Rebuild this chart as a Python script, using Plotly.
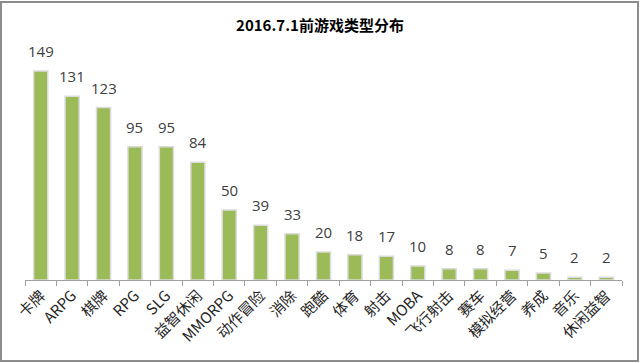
import plotly.graph_objects as go

categories = ["卡牌", "ARPG", "棋牌", "RPG", "SLG", "益智休闲", "MMORPG", "动作冒险", "消除",
              "跑酷", "体育", "射击", "MOBA", "飞行射击", "赛车", "模拟经营", "养成", "音乐", "休闲益智"]
values = [149, 131, 123, 95, 95, 84, 50, 39, 33, 20, 18, 17, 10, 8, 8, 7, 5, 2, 2]

fig = go.Figure(go.Bar(
    x=categories, y=values,
    marker=dict(color="#9BBB59", line=dict(color="#DCDCDC", width=1.5)),
    cliponaxis=False,
))

for c, v in zip(categories, values):
    fig.add_annotation(x=c, y=v, text=str(v), showarrow=False, yanchor="bottom", yshift=8,
                       font=dict(size=15, color="#404040", family="Open Sans, Noto Sans CJK SC"))

fig.update_layout(
    width=640, height=363,
    margin=dict(l=25, r=18, t=50, b=83),
    paper_bgcolor="white", plot_bgcolor="white",
    bargap=0.55,
    showlegend=False,
    title=dict(text="<b>2016.7.1前游戏类型分布</b>", x=0.5, xanchor="center", y=0.93, yanchor="middle",
               font=dict(size=15, color="#000000", family="Noto Sans CJK SC")),
    xaxis=dict(tickangle=-45, tickson="boundaries", ticks="outside", ticklen=5, tickcolor="#A0A0A0",
               showline=True, linecolor="#A0A0A0", linewidth=1, automargin=False,
               tickfont=dict(size=15, color="#262626", family="Noto Sans CJK SC")),
    yaxis=dict(range=[0, 164], visible=False, showgrid=False, automargin=False),
    shapes=[dict(type="rect", xref="paper", yref="paper",
                 x0=-24/597, x1=1 + 16/597, y0=-81/230, y1=1 + 48/230,
                 line=dict(color="#8C8C8C", width=2))],
)

fig.write_html("out.html", config={"displayModeBar": False},
               post_script="document.body.style.margin='0';document.body.style.padding='0';")
